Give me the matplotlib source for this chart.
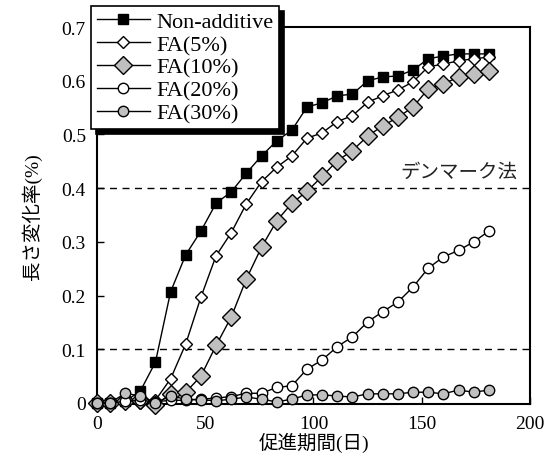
import matplotlib
matplotlib.use("Agg")
import matplotlib.pyplot as plt

plt.rcParams['font.family'] = ['Liberation Serif', 'Noto Sans CJK JP']

# 促進期間(日)
days = [0, 6, 13, 20, 27, 34, 41, 48, 55, 62, 69, 76, 83, 90, 97, 104,
        111, 118, 125, 132, 139, 146, 153, 160, 167, 174, 181]

# 長さ変化率(%)
non_additive = [0, 0, 0.003, 0.022, 0.076, 0.207, 0.276, 0.320, 0.372, 0.393,
                0.428, 0.460, 0.488, 0.508, 0.551, 0.559, 0.572, 0.575, 0.600,
                0.607, 0.609, 0.620, 0.641, 0.646, 0.650, 0.650, 0.650]
fa5 = [0, 0, 0, 0, 0.005, 0.045, 0.110, 0.197, 0.274, 0.317, 0.371, 0.412,
       0.439, 0.460, 0.493, 0.503, 0.524, 0.535, 0.560, 0.572, 0.583, 0.598,
       0.626, 0.631, 0.637, 0.641, 0.644]
fa10 = [0, 0, 0.003, 0.005, -0.004, 0.017, 0.020, 0.050, 0.107, 0.160, 0.231,
        0.290, 0.339, 0.372, 0.394, 0.422, 0.451, 0.470, 0.497, 0.516, 0.532,
        0.551, 0.585, 0.594, 0.607, 0.613, 0.618]
fa20 = [0, 0, 0.003, 0.005, 0.002, 0.005, 0.005, 0.007, 0.009, 0.012, 0.018,
        0.018, 0.029, 0.032, 0.063, 0.080, 0.105, 0.123, 0.151, 0.170, 0.188,
        0.216, 0.251, 0.272, 0.284, 0.300, 0.320]
fa30 = [0, 0, 0.018, 0.013, 0.0, 0.013, 0.007, 0.006, 0.004, 0.007, 0.011,
        0.007, 0.002, 0.007, 0.015, 0.015, 0.013, 0.011, 0.017, 0.017, 0.017,
        0.020, 0.020, 0.017, 0.024, 0.020, 0.024]

labels = ['Non-additive', 'FA(5%)', 'FA(10%)', 'FA(20%)', 'FA(30%)']
gray = '#c0c0c0'

fig = plt.figure(figsize=(5.53, 4.77), dpi=100)
ax = fig.add_axes([0.1754, 0.1509, 0.783, 0.7903])

# デンマーク法の基準線
for y in (0.1, 0.4):
    ax.axhline(y, color='k', lw=1.0, ls=(0, (5, 4)), zorder=1)
ax.text(194, 0.432, 'デンマーク法', ha='right', va='center', fontsize=14,
        family=['Noto Sans CJK JP'], color='#222222')

series = [
    (non_additive, dict(marker='s', mfc='k', ms=7)),
    (fa5, dict(marker='D', mfc='white', ms=6)),
    (fa10, dict(marker='D', mfc=gray, ms=9)),
    (fa20, dict(marker='o', mfc='white', ms=7.5)),
    (fa30, dict(marker='o', mfc=gray, ms=7.5)),
]
for (vals, style), lab in zip(series, labels):
    ax.plot(days, vals, color='k', lw=1.0, mec='k', mew=1.0, label=lab,
            zorder=3, clip_on=False, **style)

ax.set_xlim(0, 200)
ax.set_ylim(-0.002, 0.7)
ax.set_xticks([0, 50, 100, 150, 200])
ax.set_yticks([0, 0.1, 0.2, 0.3, 0.4, 0.5, 0.6, 0.7])
ax.set_yticklabels(['0', '0.1', '0.2', '0.3', '0.4', '0.5', '0.6', '0.7'])
ax.tick_params(direction='in', length=5, width=1.0, labelsize=14, pad=8)
for sp in ax.spines.values():
    sp.set_linewidth(1.5)

ax.set_xlabel('促進期間(日)', fontsize=14, labelpad=0)
ax.set_ylabel('長さ変化率(%)', fontsize=14, labelpad=14)

leg = fig.legend(loc='upper left', bbox_to_anchor=(0.1646, 0.985),
                 bbox_transform=fig.transFigure, borderaxespad=0,
                 fontsize=16, handlelength=2.4, handletextpad=0.3,
                 labelspacing=0.1, borderpad=0.25, fancybox=False,
                 framealpha=1, edgecolor='k',
                 shadow={'color': 'k', 'alpha': 1, 'ox': 3.5, 'oy': -3.5})
leg.get_frame().set_linewidth(1.2)

fig.savefig('out.png', dpi=100)
